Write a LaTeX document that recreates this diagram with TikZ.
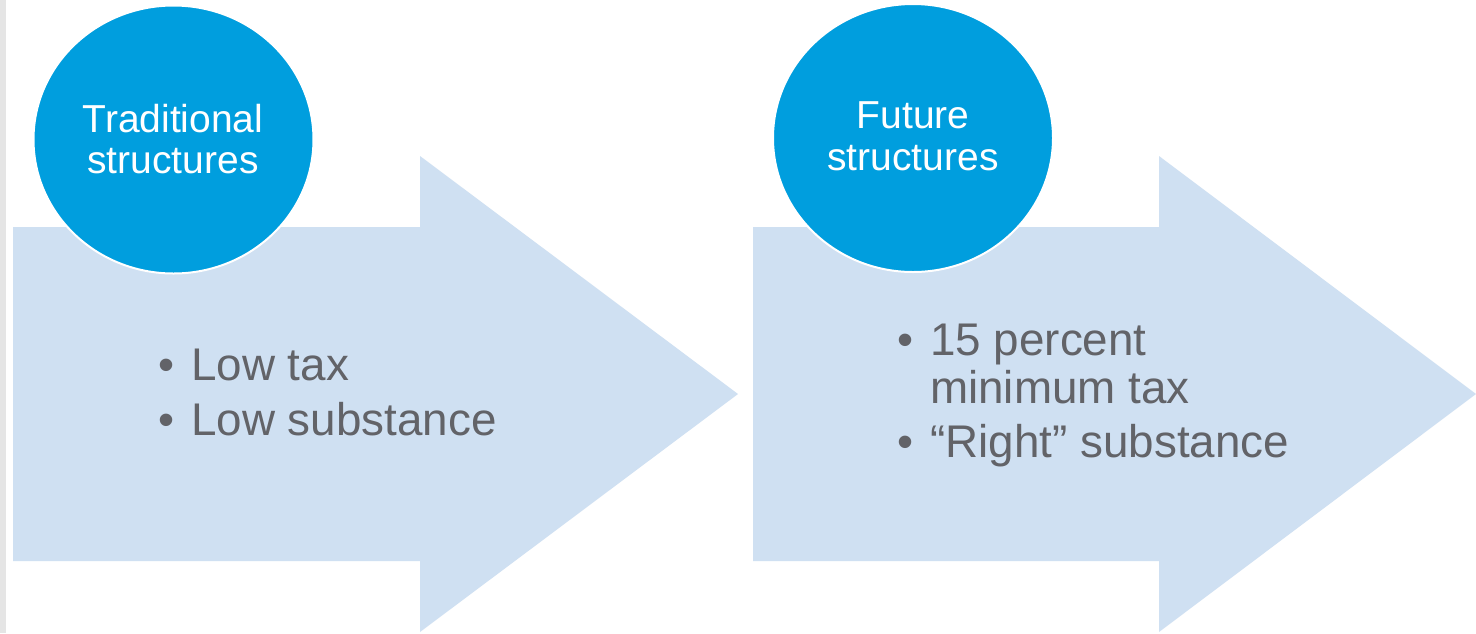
\documentclass[tikz,border=0pt]{standalone}
\usepackage{fontspec}
\setmainfont{Liberation Sans}
\definecolor{arrowblue}{RGB}{207,224,242}
\definecolor{circblue}{RGB}{0,158,222}
\definecolor{textgray}{RGB}{98,99,104}
\definecolor{stripgray}{RGB}{229,229,229}
\tikzset{
  bigarrow/.style={fill=arrowblue, draw=none},
  headcircle/.style={ellipse, fill=circblue, draw=white, line width=2pt,
    minimum width=280pt, minimum height=268pt, inner sep=0pt},
  circtext/.style={text=white, anchor=base, inner sep=0pt,
    font=\fontsize{39}{41}\selectfont},
  bullettext/.style={text=textgray, anchor=base west, inner sep=0pt,
    font=\fontsize{45.8}{54}\selectfont},
}
\usetikzlibrary{shapes.geometric}
\begin{document}
\begin{tikzpicture}[x=1pt,y=-1pt]
\useasboundingbox (0,0) rectangle (1476,633);
\fill[white] (0,0) rectangle (1476,633);
\fill[stripgray] (0,0) rectangle (6,633);
% arrows
\path[bigarrow] (13,227) -- (420,227) -- (420,156) -- (738,394) -- (420,632) -- (420,561) -- (13,561) -- cycle;
\path[bigarrow] (753,227) -- (1159,227) -- (1159,156) -- (1476,394) -- (1159,632) -- (1159,561) -- (753,561) -- cycle;
% circles
\node[headcircle] (c1) at (173.5,139.5) {};
\node[headcircle] (c2) at (913,138) {};
\node[circtext] (t1a) at (173,132) {Traditional};
\node[circtext] (t1b) at (173,173) {structures};
\node[circtext] (t2a) at (913,128) {Future};
\node[circtext] (t2b) at (913,170) {structures};
% bullets left
\node[bullettext] (b1) at (158,380) {•};
\node[bullettext] (l1) at (191,380) {Low tax};
\node[bullettext] (b2) at (158,435) {•};
\node[bullettext] (l2) at (191,435) {Low substance};
% bullets right
\node[bullettext] (b3) at (897,355) {•};
\node[bullettext] (r1) at (930,355) {15 percent};
\node[bullettext] (r1b) at (930,403) {minimum tax};
\node[bullettext] (b4) at (897,457) {•};
\node[bullettext] (r2) at (930,457) {“Right” substance};
\end{tikzpicture}
\end{document}
